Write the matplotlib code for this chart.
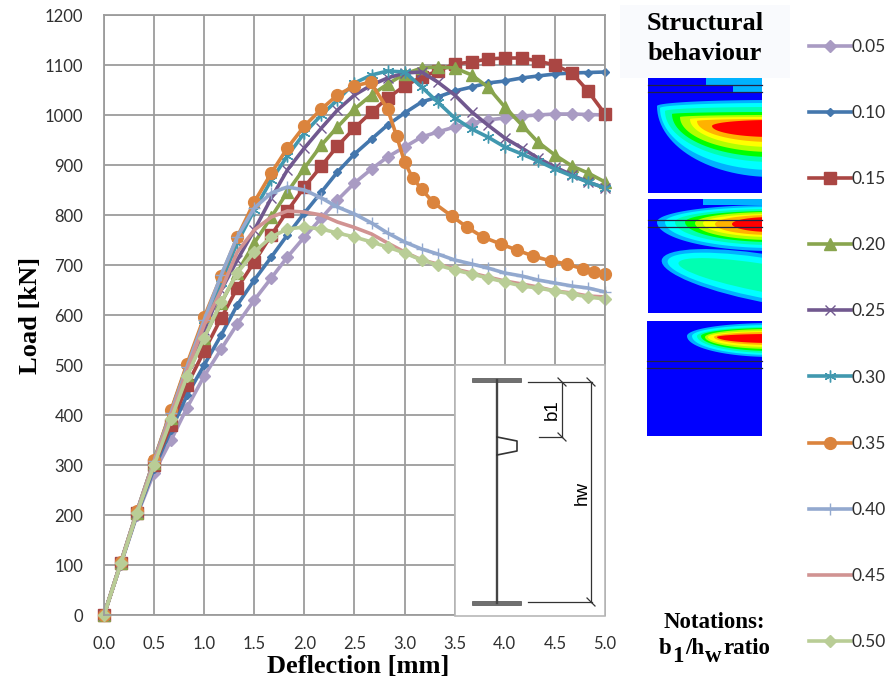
import numpy as np
import matplotlib
matplotlib.use("Agg")
import matplotlib.pyplot as plt
from matplotlib.patches import Ellipse, Polygon, Rectangle

# 挠度 (mm)
deflection = [0.0, 0.17, 0.33, 0.5, 0.67, 0.83, 1.0, 1.17, 1.33, 1.5, 1.67, 1.83, 2.0, 2.17, 2.33, 2.5,
              2.67, 2.83, 3.0, 3.17, 3.33, 3.5, 3.67, 3.83, 4.0, 4.17, 4.33, 4.5, 4.67, 4.83, 5.0]
# 0.35 这条线后半段点距不均匀
deflection_035 = [0.0, 0.17, 0.33, 0.5, 0.67, 0.83, 1.0, 1.17, 1.33, 1.5, 1.67, 1.83, 2.0, 2.17, 2.33, 2.5,
                  2.66, 2.83, 2.92, 3.0, 3.08, 3.17, 3.28, 3.47, 3.62, 3.78, 3.96, 4.12, 4.28, 4.46, 4.62,
                  4.78, 4.89, 5.0]

load_005 = [0, 103, 200, 285, 350, 415, 478, 532, 582, 630, 674, 716, 756, 794, 830, 864, 892, 916, 936, 956,
            966, 976, 984, 990, 994, 998, 1000, 1002, 1002, 1001, 1000]
load_010 = [0, 104, 202, 293, 370, 440, 500, 560, 620, 670, 716, 760, 804, 846, 886, 922, 952, 980, 1004, 1026,
            1036, 1048, 1056, 1064, 1068, 1074, 1078, 1082, 1084, 1085, 1086]
load_015 = [0, 105, 205, 300, 380, 460, 528, 594, 654, 706, 760, 808, 856, 898, 938, 974, 1006, 1034, 1058, 1076,
            1088, 1102, 1106, 1112, 1114, 1114, 1108, 1100, 1084, 1048, 1002]
load_020 = [0, 105, 205, 305, 395, 480, 555, 624, 685, 744, 796, 846, 894, 940, 976, 1012, 1040, 1062, 1082, 1094,
            1096, 1094, 1080, 1056, 1016, 980, 946, 920, 898, 884, 866]
load_025 = [0, 106, 206, 308, 400, 490, 570, 650, 710, 770, 834, 890, 934, 974, 1010, 1040, 1060, 1074, 1084, 1086,
            1066, 1040, 1006, 980, 954, 934, 914, 896, 880, 866, 854]
load_030 = [0, 107, 208, 310, 408, 500, 590, 665, 745, 810, 870, 918, 964, 1000, 1030, 1064, 1080, 1088, 1086, 1056,
            1026, 994, 972, 956, 936, 922, 908, 892, 878, 866, 854]
load_035 = [0, 107, 208, 310, 410, 503, 596, 678, 756, 826, 884, 934, 978, 1012, 1040, 1058, 1066, 1012, 958, 906,
            874, 852, 826, 798, 776, 756, 742, 730, 718, 708, 702, 692, 686, 682]
load_040 = [0, 106, 207, 308, 405, 497, 590, 680, 756, 814, 844, 856, 850, 834, 816, 802, 784, 764, 746, 732,
            722, 710, 702, 694, 684, 678, 670, 664, 658, 654, 646]
load_045 = [0, 105, 206, 305, 400, 490, 580, 650, 726, 770, 796, 808, 806, 800, 786, 775, 762, 744, 726, 710,
            702, 692, 684, 676, 668, 662, 656, 648, 644, 638, 636]
load_050 = [0, 104, 204, 300, 392, 478, 555, 626, 684, 726, 756, 772, 776, 772, 764, 756, 746, 736, 724, 710,
            700, 690, 682, 674, 666, 658, 654, 648, 642, 636, 632]

ratio_labels = ['0.05', '0.10', '0.15', '0.20', '0.25', '0.30', '0.35', '0.40', '0.45', '0.50']
x_ticks = [0.0, 0.5, 1.0, 1.5, 2.0, 2.5, 3.0, 3.5, 4.0, 4.5, 5.0]
y_ticks = [0, 100, 200, 300, 400, 500, 600, 700, 800, 900, 1000, 1100, 1200]

# ANSYS 云图的色阶，由外到内
ansys_colors = ['#00b2ff', '#00ffff', '#00ffb2', '#00ff00', '#b2ff00', '#ffff00', '#ffb200', '#ff0000']

series = [
    (deflection, load_005, '#a99bc3', 'D', 6.5, 1),
    (deflection, load_010, '#4477ad', 'D', 4.5, 1),
    (deflection, load_015, '#aa4643', 's', 8, 1),
    (deflection, load_020, '#89a54e', '^', 8.5, 1),
    (deflection, load_025, '#71588f', 'x', 7.5, 1),
    (deflection, load_030, '#4198af', (6, 2, 0), 8.5, 1),
    (deflection_035, load_035, '#db843d', 'o', 8.5, 1),
    (deflection, load_040, '#93a9cf', '+', 9, 1),
    (deflection, load_045, '#d19392', 'None', 0, 1),
    (deflection, load_050, '#b9cd96', 'D', 6.5, 1),
]

fig = plt.figure(figsize=(8.95, 6.81), dpi=100)
ax = fig.add_axes([104 / 895, 1 - 615 / 681, 501 / 895, 600 / 681])

handles = []
for (xs, ys, color, marker, size, mew), label in zip(series, ratio_labels):
    line, = ax.plot(xs, ys, color=color, linewidth=2.6, marker=marker, markersize=size,
                    markeredgewidth=mew, markeredgecolor=color, label=label, clip_on=False)
    handles.append(line)

ax.set_xlim(0, 5)
ax.set_ylim(0, 1200)
ax.set_xticks(x_ticks)
ax.set_yticks(y_ticks)
ax.set_xticklabels([f'{v:.1f}' for v in x_ticks], fontfamily='Lato', fontsize=12, color='#303030')
ax.set_yticklabels([str(v) for v in y_ticks], fontfamily='Lato', fontsize=12, color='#303030')
ax.tick_params(length=0, pad=15)
ax.grid(True, color='#9c9c9c', linewidth=1.3)
ax.set_axisbelow(True)
for s in ax.spines.values():
    s.set_color('#9c9c9c')
    s.set_linewidth(1.3)

ax.set_xlabel('Deflection [mm]', fontfamily='Liberation Serif', fontweight='bold', fontsize=19, va='center')
ax.set_ylabel('Load [kN]', fontfamily='Liberation Serif', fontweight='bold', fontsize=19, va='center')
ax.xaxis.set_label_coords((358 - 104) / 501, (615 - 667) / 600)
ax.yaxis.set_label_coords((31 - 104) / 501, 0.5)

# 图例手动放在右侧，间距比较大
fig.legend(handles=handles, labels=ratio_labels, loc='upper left', bbox_to_anchor=(800 / 895, 1 - 30 / 681),
           frameon=False, prop={'family': 'Lato', 'size': 12.5}, labelspacing=2.89, handlelength=2.45,
           handletextpad=0.0, borderpad=0, labelcolor='#303030')

# 叠加层，坐标用像素
ov = fig.add_axes([0, 0, 1, 1], facecolor='none')
ov.set_xlim(0, 895)
ov.set_ylim(681, 0)
ov.axis('off')


def panel(x0, y0, x1, y1):
    rect = Rectangle((x0, y0), x1 - x0, y1 - y0, facecolor='#0000ff', edgecolor='none', zorder=2)
    ov.add_patch(rect)
    return rect


def egg(clip, tip_x, tip_y, top, bottom, color, right=772):
    # 上下半径不同的椭圆，上半扁，下半鼓
    t = np.linspace(0, 2 * np.pi, 120)
    xs = right - (right - tip_x) * np.cos(t)
    ys = tip_y + np.where(np.sin(t) > 0, (bottom - tip_y), (tip_y - top)) * np.sin(t)
    p = Polygon(np.column_stack([xs, ys]), facecolor=color, edgecolor='none', zorder=3)
    ov.add_patch(p)
    p.set_clip_path(clip)


def blob(clip, cx, cy, half_w, half_h, angle, color):
    e = Ellipse((cx, cy), 2 * half_w, 2 * half_h, angle=angle, facecolor=color, edgecolor='none', zorder=3)
    ov.add_patch(e)
    e.set_clip_path(clip)


def steel_lines(x0, x1, y_a, y_b):
    ov.plot([x0, x1], [y_a, y_a], color='#222244', lw=0.9, zorder=4)
    ov.plot([x0, x1], [y_b, y_b], color='#222244', lw=0.9, zorder=4)


# 白色标题框
ov.add_patch(Rectangle((620, 5), 170, 73, facecolor='#f9fafd', edgecolor='none', zorder=1))
ov.text(705, 23, 'Structural', family='Liberation Serif', weight='bold', fontsize=19, ha='center', va='center')
ov.text(705, 54, 'behaviour', family='Liberation Serif', weight='bold', fontsize=19, ha='center', va='center')

# 第一块云图
p1 = panel(648, 78, 762, 193)
ov.add_patch(Rectangle((706, 78), 56, 8, facecolor='#00b2ff', edgecolor='none', zorder=3))
ov.add_patch(Rectangle((733, 86), 29, 6, facecolor='#00b2ff', edgecolor='none', zorder=3))
tips1 = [657, 660, 665, 672, 680, 690, 697, 712]
mids1 = [106, 108, 111, 114, 117, 119, 121, 126]
tops1 = [100, 103, 107, 112, 115, 117, 119, 120]
bots1 = [177, 170, 162, 157, 152, 147, 142, 137]
for tx, ty, tp, bt, col in zip(tips1, mids1, tops1, bots1, ansys_colors):
    egg(p1, tx, ty, tp, bt, col)
steel_lines(648, 762, 85, 92)

# 第二块
p2 = panel(648, 199, 762, 313)
ov.add_patch(Rectangle((703, 199), 59, 6, facecolor='#00b2ff', edgecolor='none', zorder=3))
tips2 = [657, 665, 675, 685, 695, 703, 715, 732]
mids2 = [222, 222, 222, 222, 223, 223, 224, 224]
tops2 = [205, 207, 209, 211, 212, 214, 215, 217]
bots2 = [251, 248, 245, 242, 240, 237, 235, 232]
for tx, ty, tp, bt, col in zip(tips2, mids2, tops2, bots2, ansys_colors):
    egg(p2, tx, ty, tp, bt, col)
for w, h, col in zip([115, 109, 98], [24, 20, 14], ansys_colors[:3]):
    blob(p2, 775, 280, w, h, 10, col)
steel_lines(648, 762, 220, 227)

# 第三块
p3 = panel(647, 321, 762, 436)
tips3 = [687, 692, 697, 701, 705, 708, 714, 717]
mids3 = [336, 336, 336, 336, 337, 337, 337, 337]
tops3 = [323, 325, 327, 328, 329, 331, 332, 334]
bots3 = [357, 355, 353, 351, 349, 347, 345, 343]
for tx, ty, tp, bt, col in zip(tips3, mids3, tops3, bots3, ansys_colors):
    egg(p3, tx, ty, tp, bt, col)
steel_lines(647, 762, 361, 368)

# 工字梁示意
ov.add_patch(Rectangle((455, 365), 150, 251, facecolor='white', edgecolor='#b8b8b8', linewidth=1.2, zorder=2))
ov.add_patch(Rectangle((472, 378), 49, 4, facecolor='#707070', edgecolor='#505050', linewidth=0.5, zorder=3))
ov.add_patch(Rectangle((472, 601), 49, 4, facecolor='#707070', edgecolor='#505050', linewidth=0.5, zorder=3))
ov.plot([497, 497], [380, 603], color='#444444', lw=1.7, zorder=3)
ov.plot([497, 517, 517, 497], [437, 441, 451, 455], color='#333333', lw=1.2, zorder=3)
dims = [([528, 592], [382, 382]), ([539, 562], [437, 437]), ([528, 592], [602, 602]),
        ([562, 562], [382, 437]), ([591, 591], [382, 602]),
        ([558, 566], [378, 386]), ([558, 566], [433, 441]),
        ([587, 595], [378, 386]), ([587, 595], [598, 606])]
for xs, ys in dims:
    ov.plot(xs, ys, color='#333333', lw=0.9, zorder=3)
ov.text(552, 410, 'b1', family='Liberation Sans', fontsize=13.5, rotation=90, ha='center', va='center', zorder=3)
ov.text(582, 493, 'hw', family='Liberation Sans', fontsize=13.5, rotation=90, ha='center', va='center', zorder=3)

# 符号说明
serif = dict(family='Liberation Serif', weight='bold', va='baseline')
ov.text(714, 628, 'Notations:', fontsize=16.5, ha='center', **serif)
ov.text(659, 654, 'b', fontsize=16.5, **serif)
ov.text(672.5, 662, '1', fontsize=16.5, **serif)
ov.text(685, 654, '/h', fontsize=16.5, **serif)
ov.text(705, 662, 'w', fontsize=16.5, **serif)
ov.text(723, 654, 'ratio', fontsize=16.5, **serif)

fig.savefig('out.png', dpi=100)
